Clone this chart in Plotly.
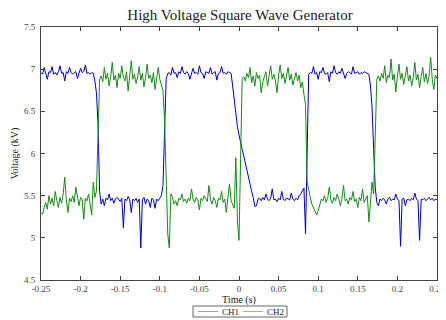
import plotly.graph_objects as go

# ---- data ----
T_START = -0.25
T_STEP = 0.002

ch1 = [
    6.96, 6.94, 7.02, 6.95, 6.88, 6.97, 6.96, 7.03, 6.94, 6.96,
    6.93, 6.97, 7.04, 6.95, 6.96, 6.86, 6.97, 6.95, 7.02, 6.96,
    6.94, 6.96, 6.97, 6.89, 6.95, 7.01, 6.96, 6.97, 7.05, 6.95,
    6.96, 6.94, 6.96,
    6.95, 6.86, 6.72, 6.35, 5.55, 5.40,
    5.46, 5.38, 5.47, 5.45, 5.52, 5.44, 5.47, 5.41, 5.46, 5.48,
    5.45, 5.43, 5.47, 5.12, 5.46, 5.44, 5.49, 5.45, 5.30, 5.46,
    5.44, 5.47, 5.42, 5.46, 4.88, 5.45, 5.48, 5.40, 5.46, 5.44,
    5.36, 5.47, 5.45, 5.35, 5.46, 5.44, 5.47,
    5.50, 5.62, 6.40, 6.88, 6.95,
    6.96, 6.93, 7.02, 6.95, 6.96, 6.90, 6.97, 6.95, 7.03, 6.96,
    6.94, 6.97, 6.95, 6.88, 6.96, 7.01, 6.95, 6.96, 6.94, 7.04,
    6.96, 6.95, 6.89, 6.97, 6.96, 6.95, 7.02, 6.94, 6.96, 6.97,
    6.87, 6.95, 6.96, 7.03, 6.95, 6.96, 6.94, 6.97, 6.96,
    6.95, 6.80, 6.62, 6.45, 6.32, 6.22, 6.12, 6.05, 5.97, 5.88,
    5.79, 5.70, 5.62, 5.55, 5.48, 5.37, 5.38,
    5.46, 5.47, 5.44, 5.48, 5.45, 5.52, 5.46, 5.44, 5.47, 5.58,
    5.45, 5.46, 5.43, 5.47, 5.45, 5.55, 5.46, 5.44, 5.47, 5.46,
    5.45, 5.53, 5.46, 5.44, 5.47, 5.45, 5.50, 5.52, 5.56, 5.59,
    5.05, 6.10, 6.94,
    6.96, 6.95, 7.03, 6.94, 6.96, 6.88, 6.97, 6.96, 7.02, 6.95,
    6.94, 6.96, 6.85, 6.97, 6.95, 7.04, 6.96, 6.94, 6.97, 6.95,
    7.01, 6.96, 6.89, 6.95, 6.97, 6.96, 6.94, 7.03, 6.95, 6.96,
    6.97, 6.94, 6.96, 6.95, 6.97, 6.96, 6.95,
    6.94, 6.80, 6.55, 6.05, 5.60, 5.42,
    5.38, 5.46, 5.44, 5.47, 5.45, 5.40, 5.46, 5.48, 5.44, 5.46,
    5.45, 5.52, 5.46, 5.44, 4.90, 5.46, 5.47, 5.38, 5.45, 5.46,
    5.44, 5.47, 5.45, 5.53, 5.46, 5.44, 4.97, 5.46, 5.45, 5.47,
    5.44, 5.46, 5.48, 5.45, 5.47, 5.44, 5.46, 5.45,
]

ch2 = [
    5.30, 5.28, 5.36, 5.42, 5.34, 5.50, 5.40, 5.47, 5.38, 5.55,
    5.44, 5.36, 5.48, 5.41, 5.52, 5.72, 5.45, 5.30, 5.47, 5.43,
    5.50, 5.42, 5.60, 5.46, 5.38, 5.48, 5.45, 5.22, 5.47, 5.44,
    5.52, 5.40, 5.27, 5.66, 5.48, 5.55,
    6.30, 6.88,
    6.92, 6.85, 7.02, 6.88, 6.95, 6.80, 6.91, 7.08, 6.87, 6.93,
    6.78, 6.95, 6.89, 7.04, 6.90, 6.86, 6.97, 6.74, 6.92, 7.10,
    6.88, 6.94, 6.83, 6.91, 7.03, 6.87, 6.95, 6.79, 6.90, 7.06,
    6.89, 6.93, 6.84, 6.96, 6.76, 6.91, 7.02, 6.88, 6.82, 6.75,
    6.40, 5.60, 5.05, 4.88, 5.52,
    5.48, 5.40, 5.44, 5.38, 5.47, 5.45, 5.52, 5.43, 5.46, 5.41,
    5.47, 5.44, 5.58, 5.46, 5.42, 5.48, 5.45, 5.33, 5.47, 5.44,
    5.50, 5.46, 5.43, 5.62, 5.45, 5.40, 5.48, 5.44, 5.36, 5.47,
    5.45, 5.55, 5.42, 5.46, 5.30, 5.48, 5.64, 5.44, 5.40,
    5.35, 5.95, 5.20, 4.97, 6.05, 6.88,
    6.91, 6.86, 6.95, 6.90, 7.02, 6.84, 6.92, 6.80, 6.96, 6.89,
    6.93, 6.72, 6.85, 6.91, 6.97, 6.80, 6.92, 7.04, 6.88, 6.94,
    6.86, 6.72, 6.93, 7.05, 6.89, 6.95, 6.83, 6.91, 7.02, 6.87,
    6.94, 6.81, 6.90, 6.96, 6.86, 6.93, 6.78, 6.85,
    6.70, 6.58, 5.66, 5.55, 5.48, 5.40, 5.35, 5.30, 5.27, 5.32, 5.40,
    5.46, 5.44, 5.50, 5.42, 5.47, 5.60, 5.45, 5.41, 5.48, 5.44,
    5.52, 5.46, 5.38, 5.47, 5.62, 5.44, 5.46, 5.40, 5.48, 5.45,
    5.55, 5.43, 5.46, 5.36, 5.48, 5.44, 5.58, 5.42, 5.46, 5.50,
    5.19, 5.40, 5.66, 5.52,
    6.20, 6.88,
    6.92, 6.86, 6.95, 6.89, 7.04, 6.84, 6.93, 6.90, 7.12, 6.87,
    6.94, 6.73, 6.91, 7.06, 6.88, 6.95, 6.82, 6.92, 7.03, 6.86,
    6.93, 6.80, 6.90, 7.08, 6.87, 6.94, 6.78, 6.91, 7.02, 6.85,
    6.95, 6.83, 6.92, 7.14, 6.88, 6.76, 6.93, 6.89,
]

if len(ch1) != 251 or len(ch2) != 251:
    raise SystemExit(f"length mismatch ch1={len(ch1)} ch2={len(ch2)}")

time = [round(T_START + T_STEP * i, 4) for i in range(len(ch1))]

series_names = ["CH1", "CH2"]
series_colors = ["#0000c8", "#178a17"]
legend_line_colors = ["#9a9ae6", "#8fc48f"]

x_ticks = [-0.25, -0.2, -0.15, -0.1, -0.05, 0, 0.05, 0.1, 0.15, 0.2, 0.25]
x_tick_text = ["-0.25", "-0.2", "-0.15", "-0.1", "-0.05", "0", "0.05", "0.1", "0.15", "0.2", "0.25"]
y_ticks = [4.5, 5, 5.5, 6, 6.5, 7, 7.5]
y_tick_text = ["4.5", "5", "5.5", "6", "6.5", "7", "7.5"]

FONT = "Liberation Serif, Times New Roman, serif"

# The page body has an 8px margin, so the figure is drawn 8px in from the window corner.
OFF = 8
W, H = 446 - OFF, 320 - OFF
ML, MR, MT, MB = 41 - OFF, 9, 27 - OFF, 40
PW, PH = W - ML - MR, H - MT - MB


def px(xw):
    """window x pixel -> paper coordinate"""
    return (xw - OFF - ML) / PW


def py(yw):
    """window y pixel -> paper coordinate"""
    return (H - MB - (yw - OFF)) / PH


fig = go.Figure()
for name, vals, col in zip(series_names, [ch1, ch2], series_colors):
    fig.add_trace(go.Scatter(x=time, y=vals, mode="lines", name=name,
                             line=dict(color=col, width=1), showlegend=False))

axis_common = dict(showgrid=False, zeroline=False, showline=True, linecolor="#444",
                   linewidth=1, mirror="ticks", ticks="inside", ticklen=4,
                   tickcolor="#444", tickfont=dict(family=FONT, size=9, color="#444"))

# custom legend box (MATLAB style)
shapes = [dict(type="rect", xref="paper", yref="paper",
               x0=px(193), x1=px(287), y0=py(317), y1=py(306),
               line=dict(color="#666", width=1), fillcolor="white", layer="above")]
annotations = []
leg_y = py(311.5)
line_spans = [(198, 218), (243, 263)]
text_x = [230, 275]
for (a, b), tx, name, col in zip(line_spans, text_x, series_names, legend_line_colors):
    shapes.append(dict(type="line", xref="paper", yref="paper",
                       x0=px(a), x1=px(b), y0=leg_y, y1=leg_y,
                       line=dict(color=col, width=1)))
    annotations.append(dict(text=name, xref="paper", yref="paper", x=px(tx), y=leg_y,
                            xanchor="center", yanchor="middle", showarrow=False,
                            font=dict(family=FONT, size=9, color="#222")))

fig.update_layout(
    width=W, height=H,
    margin=dict(l=ML, r=MR, t=MT, b=MB, autoexpand=False),
    paper_bgcolor="white", plot_bgcolor="white",
    font=dict(family=FONT, color="#222"),
    title=dict(text="High Voltage Square Wave Generator", x=(240 - OFF) / W, xanchor="center",
               y=1 - (15 - OFF) / H, yanchor="middle", font=dict(family=FONT, size=15, color="#222")),
    xaxis=dict(range=[-0.25, 0.25], tickvals=x_ticks, ticktext=x_tick_text,
               title=dict(text="Time (s)", standoff=1, font=dict(family=FONT, size=10, color="#222")),
               **axis_common),
    yaxis=dict(range=[4.5, 7.5], tickvals=y_ticks, ticktext=y_tick_text,
               ticklabelstandoff=3,
               title=dict(text="Voltage (kV)", standoff=3, font=dict(family=FONT, size=10, color="#222")),
               **axis_common),
    showlegend=False,
    shapes=shapes,
    annotations=annotations,
)

fig.write_html("out.html")
